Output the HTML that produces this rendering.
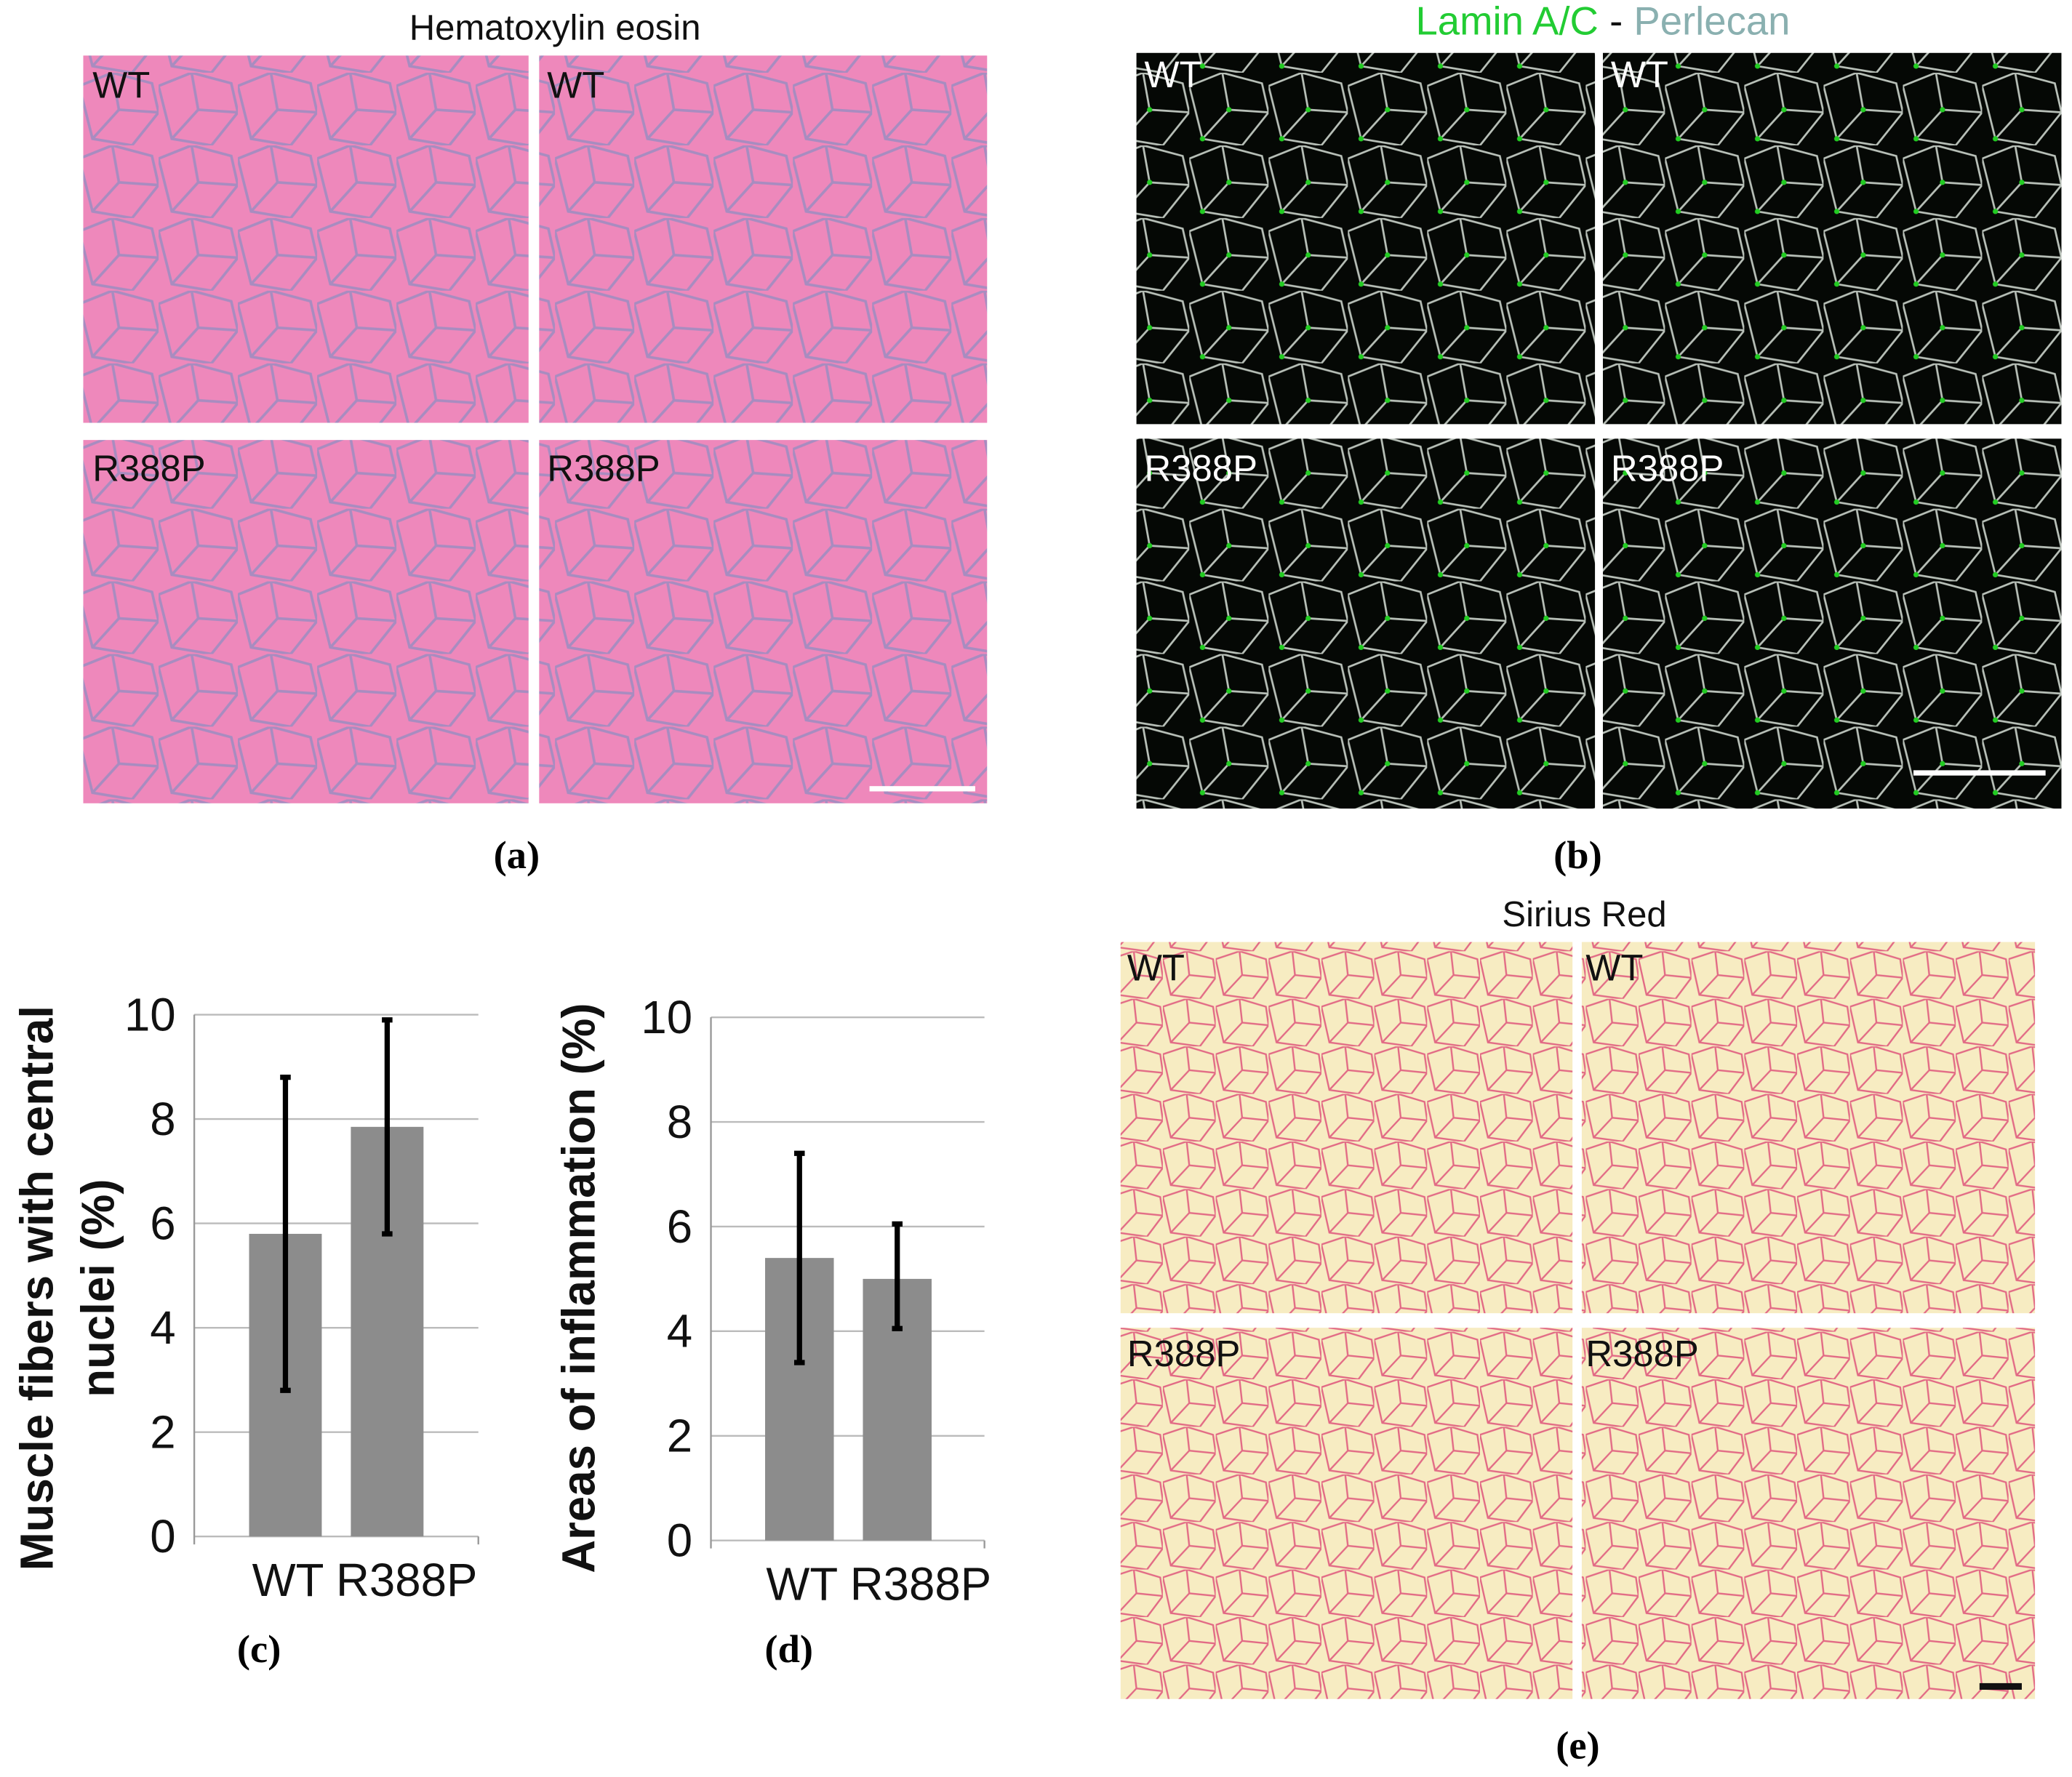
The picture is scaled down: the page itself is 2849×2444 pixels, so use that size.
<!DOCTYPE html>
<html><head><meta charset="utf-8"><style>
html,body{margin:0;padding:0;background:#fff;}
svg{display:block;}
text{font-family:"Liberation Sans",sans-serif;}
.serif{font-family:"Liberation Serif",serif;font-weight:bold;}
</style></head><body>
<svg id="fig" width="2849" height="2444" viewBox="0 0 1568 1345" xmlns="http://www.w3.org/2000/svg">
<defs>
<pattern id="he" width="60" height="55" patternUnits="userSpaceOnUse">
<rect width="60" height="55" fill="#ee88bb"/>
<path d="M0 10 L25 0 L55 8 L60 30 L40 55 L10 50 Z M25 0 L30 28 L60 30 M30 28 L10 50" fill="none" stroke="#a88cc0" stroke-width="2"/>
</pattern>
<pattern id="if" width="60" height="55" patternUnits="userSpaceOnUse">
<rect width="60" height="55" fill="#050805"/>
<path d="M0 10 L25 0 L55 8 L60 30 L40 55 L10 50 Z M25 0 L30 28 L60 30 M30 28 L10 50" fill="none" stroke="#b8c0b8" stroke-width="1.5"/>
<circle cx="30" cy="28" r="2" fill="#2c2"/><circle cx="10" cy="50" r="2" fill="#2c2"/>
</pattern>
<pattern id="sr" width="40" height="36" patternUnits="userSpaceOnUse">
<rect width="40" height="36" fill="#f7ecc2"/>
<path d="M0 6 L18 0 L38 6 L40 20 L28 36 L6 33 Z M18 0 L20 18 L40 20 M20 18 L6 33" fill="none" stroke="#e26a85" stroke-width="1.3"/>
</pattern>
</defs>

<text x="420" y="30" font-size="27" text-anchor="middle" fill="#111">Hematoxylin eosin</text>
<g>
<rect x="63" y="42" width="337" height="278" fill="url(#he)"/>
<rect x="408" y="42" width="339" height="278" fill="url(#he)"/>
<rect x="63" y="333" width="337" height="275" fill="url(#he)"/>
<rect x="408" y="333" width="339" height="275" fill="url(#he)"/>
<rect x="658" y="595" width="80" height="4" fill="#fff"/>
<text x="70" y="74" font-size="28" fill="#111">WT</text>
<text x="414" y="74" font-size="28" fill="#111">WT</text>
<text x="70" y="364" font-size="28" fill="#111">R388P</text>
<text x="414" y="364" font-size="28" fill="#111">R388P</text>
</g>
<text class="serif" x="391" y="657" font-size="30" text-anchor="middle">(a)</text>

<text x="1213" y="26" font-size="30" text-anchor="middle"><tspan fill="#22cc33">Lamin A/C</tspan><tspan fill="#111"> - </tspan><tspan fill="#8ab0b0">Perlecan</tspan></text>
<g>
<rect x="860" y="40" width="347" height="281" fill="url(#if)"/>
<rect x="1213" y="40" width="347" height="281" fill="url(#if)"/>
<rect x="860" y="332" width="347" height="280" fill="url(#if)"/>
<rect x="1213" y="332" width="347" height="280" fill="url(#if)"/>
<rect x="1448" y="583" width="100" height="4" fill="#fff"/>
<text x="866" y="66" font-size="28" fill="#fff">WT</text>
<text x="1219" y="66" font-size="28" fill="#fff">WT</text>
<text x="866" y="364" font-size="28" fill="#fff">R388P</text>
<text x="1219" y="364" font-size="28" fill="#fff">R388P</text>
</g>
<text class="serif" x="1194" y="657" font-size="30" text-anchor="middle">(b)</text>

<g id="chartC"></g>
<g id="chartD"></g>
<text class="serif" x="196" y="1258" font-size="30" text-anchor="middle">(c)</text>
<text class="serif" x="597" y="1258" font-size="30" text-anchor="middle">(d)</text>

<text x="1199" y="701" font-size="27" text-anchor="middle" fill="#111">Sirius Red</text>
<g>
<rect x="848" y="713" width="342" height="281" fill="url(#sr)"/>
<rect x="1197" y="713" width="343" height="281" fill="url(#sr)"/>
<rect x="848" y="1005" width="342" height="281" fill="url(#sr)"/>
<rect x="1197" y="1005" width="343" height="281" fill="url(#sr)"/>
<rect x="1498" y="1274" width="32" height="5" fill="#111"/>
<text x="853" y="742" font-size="28" fill="#111">WT</text>
<text x="1200" y="742" font-size="28" fill="#111">WT</text>
<text x="853" y="1034" font-size="28" fill="#111">R388P</text>
<text x="1200" y="1034" font-size="28" fill="#111">R388P</text>
</g>
<text class="serif" x="1194" y="1331" font-size="30" text-anchor="middle">(e)</text>
</svg>
<script>
const categories = ["WT","R388P"];
const ticks = [0,2,4,6,8,10];
const cValues = [5.8, 7.85];
const cErrLow = [2.8, 5.8];
const cErrHigh = [8.8, 9.9];
const dValues = [5.4, 5.0];
const dErrLow = [3.4, 4.05];
const dErrHigh = [7.4, 6.05];
const NS="http://www.w3.org/2000/svg";
function mk(tag, attrs, parent, txt){const e=document.createElementNS(NS,tag);for(const k in attrs)e.setAttribute(k,attrs[k]);if(txt!==undefined)e.textContent=txt;parent.appendChild(e);return e;}
function chart(g, cfg, vals, lo, hi){
  const y=v=>cfg.y0-(cfg.y0-cfg.y10)*v/10;
  ticks.forEach(t=>{
    const l=mk('line',{x1:cfg.x0,x2:cfg.x1,y1:y(t),y2:y(t),stroke:'#bbb','stroke-width':1.3},g);
    
    
    const tx=mk('text',{x:cfg.x0-14,y:y(t)+12,'font-size':35,'text-anchor':'end',fill:'#111'},g,String(t));
    
    
  });
  mk('line',{x1:cfg.x0,x2:cfg.x0,y1:cfg.y10,y2:cfg.y0+6,stroke:'#999','stroke-width':1.3},g);
  mk('line',{x1:cfg.x1,x2:cfg.x1,y1:cfg.y0,y2:cfg.y0+6,stroke:'#999','stroke-width':1.3},g);
  vals.forEach((v,i)=>{
    const cx=cfg.bx[i];
    const b=mk('rect',{x:cx-cfg.bw/2,y:y(v),width:cfg.bw,height:y(0)-y(v),fill:'#8c8c8c'},g);
    
    
    const e=mk('path',{d:`M${cx-4} ${y(hi[i])}H${cx+4}M${cx} ${y(hi[i])}V${y(lo[i])}M${cx-4} ${y(lo[i])}H${cx+4}`,stroke:'#000','stroke-width':4,fill:'none'},g);
    
    
  });
  const xl=mk('text',{x:cfg.xlab,y:cfg.y0+45,'font-size':35,'text-anchor':'middle',fill:'#111'},g,categories.join(' '));
  
  
  cfg.title.forEach((s,k)=>{
    const t=mk('text',{transform:`translate(${cfg.tx[k]},${cfg.ty}) rotate(-90)`,'font-size':35,'font-weight':'bold','text-anchor':'middle',fill:'#111'},g,s);
    
    
  });
}
chart(document.getElementById('chartC'),{x0:147,x1:362,y0:1163,y10:768,bx:[216,293],bw:55,xlab:276,title:['Muscle fibers with central','nuclei (%)'],tx:[40,86],ty:975},cValues,cErrLow,cErrHigh);
chart(document.getElementById('chartD'),{x0:538,x1:745,y0:1166,y10:770,bx:[605,679],bw:52,xlab:665,title:['Areas of inflammation (%)'],tx:[450],ty:975},dValues,dErrLow,dErrHigh);
</script>
</body></html>
